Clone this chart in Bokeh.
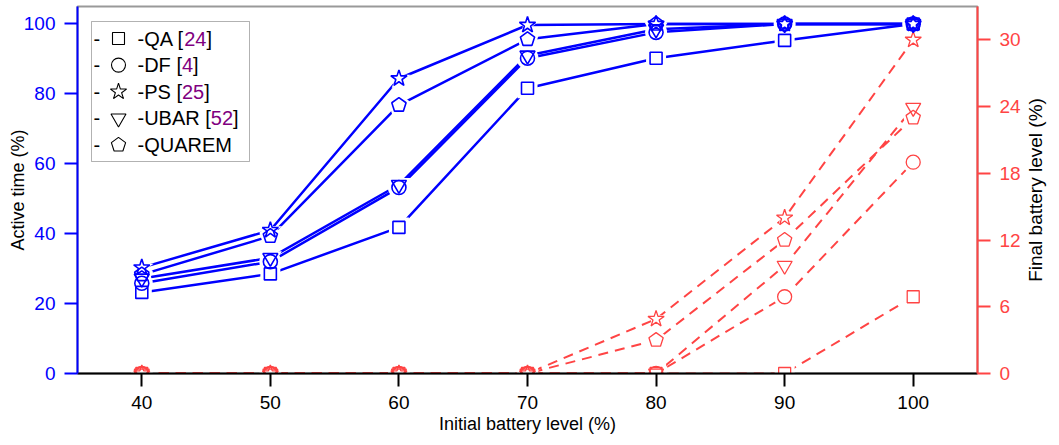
import math
from bokeh.plotting import figure
from bokeh.models import Range1d, LinearAxis, FixedTicker, ColumnDataSource, BoxAnnotation
from bokeh.embed import file_html
from bokeh.resources import INLINE
from bokeh.core.properties import value

# ---------------- data ----------------
levels = [40, 50, 60, 70, 80, 90, 100]
series_names = ["QA", "DF", "PS", "UBAR", "QUAREM"]
series_refs = ["24", "4", "25", "52", ""]

active_qa = [23.2, 28.5, 41.8, 81.6, 90.2, 95.3, 100]
active_df = [25.8, 32.0, 53.2, 90.2, 97.6, 100, 100]
active_ps = [30.3, 41.0, 84.4, 99.7, 100, 100, 100]
active_ubar = [27.2, 33.1, 54.0, 91.0, 98.5, 100, 100]
active_quarem = [28.3, 39.3, 76.8, 95.6, 100, 100, 100]

final_qa = [0, 0, 0, 0, 0, 0, 6.9]
final_df = [0, 0, 0, 0, 0, 6.9, 19.0]
final_ps = [0, 0, 0, 0, 4.9, 14.0, 30.0]
final_ubar = [0, 0, 0, 0, 0, 9.7, 23.9]
final_quarem = [0, 0, 0, 0, 3.0, 12.0, 23.0]

left_ticks = [0, 20, 40, 60, 80, 100]
right_ticks = [0, 6, 12, 18, 24, 30]

active = [active_qa, active_df, active_ps, active_ubar, active_quarem]
final = [final_qa, final_df, final_ps, final_ubar, final_quarem]

# ---------------- style ----------------
BLUE = "#0000ff"
RED = "#ff4444"
PURPLE = "#800080"
FONT = "Liberation Sans"

W, H = 1059, 445
L, R, T, B = 77, 82, 6, 72
X0, X1 = 35, 105
Y0, Y1 = 0, 105
Y2 = 33

markers = ["square", "circle", "star", "inverted_triangle", "pentagon"]
msize = {"square": 12, "circle": 14, "star": 17, "inverted_triangle": 15, "pentagon": 15}

CW = {'-': 333, 'Q': 778, 'A': 667, 'D': 722, 'F': 611, 'P': 667, 'S': 667, 'U': 722,
      'B': 667, 'R': 722, 'E': 667, 'M': 833, ' ': 278, '[': 278, ']': 278,
      'i': 222, 'n': 556, 'a': 556, 'l': 222, 'b': 556, 't': 278, 'e': 556, 'r': 333,
      'y': 500, 'v': 500, '(': 333, ')': 333, '%': 889}


def tw(s, fs):
    return sum(CW.get(c, 556) for c in s) * fs / 1000.0


def dx(px):
    return X0 + (px - L) * (X1 - X0) / (W - L - R)


def dy(py):
    return Y0 + (H - B - py) * (Y1 - Y0) / (H - T - B)


p = figure(width=W, height=H, x_range=Range1d(X0, X1), y_range=Range1d(Y0, Y1),
           output_backend="svg", toolbar_location=None,
           min_border_left=L, min_border_right=R, min_border_top=T, min_border_bottom=B)
p.extra_y_ranges = {"fb": Range1d(0, Y2)}
p.xgrid.visible = False
p.ygrid.visible = False
p.outline_line_color = "#999999"
p.outline_line_width = 2
p.background_fill_color = "white"

# axes
xa = p.xaxis[0]
xa.ticker = FixedTicker(ticks=levels)
xa.axis_label = "Initial battery level (%)"
ya = p.yaxis[0]
ya.ticker = FixedTicker(ticks=left_ticks)
ya.axis_label = "Active time (%)"
ra = LinearAxis(y_range_name="fb", ticker=FixedTicker(ticks=right_ticks))
p.add_layout(ra, "right")

for ax, col in ((xa, "black"), (ya, BLUE), (ra, RED)):
    ax.axis_line_color = col
    ax.axis_line_width = 2
    ax.major_tick_line_color = col
    ax.major_tick_line_width = 2
    ax.major_tick_out = 13
    ax.major_tick_in = 0
    ax.minor_tick_line_color = None
    ax.major_label_text_color = col
    ax.major_label_text_font = FONT
    ax.major_label_text_font_size = "19px"
    ax.major_label_standoff = 9
    ax.axis_label_text_font = FONT
    ax.axis_label_text_font_size = "18px"
    ax.axis_label_text_font_style = "normal"
    ax.axis_label_text_color = "black"
ya.axis_label_standoff = -7
xa.axis_label_standoff = 2

# right-hand axis title, reading bottom to top (an outer label-only axis)
RT = "Final battery level (%)"
RFS = 19
rt_pos = Y2 / 2 - (tw(RT, RFS) / 2) * Y2 / (H - T - B)
title_axis = LinearAxis(y_range_name="fb", ticker=FixedTicker(ticks=[rt_pos]),
                        major_label_overrides={rt_pos: RT},
                        major_label_orientation=math.pi / 2)
title_axis.axis_line_color = None
title_axis.major_tick_line_color = None
title_axis.minor_tick_line_color = None
title_axis.major_tick_out = 0
title_axis.major_tick_in = 0
title_axis.major_label_standoff = 12
title_axis.major_label_text_font = FONT
title_axis.major_label_text_font_size = f"{RFS}px"
title_axis.major_label_text_color = "black"
p.add_layout(title_axis, "right")


def draw_markers(xs, ys, kind, color, width, fill=None, alpha=0.0, extra=0, y_range_name="default", line=True):
    kw = dict(y_range_name=y_range_name)
    lc = color if line else None
    if kind == "pentagon":
        return p.ngon(x=xs, y=ys, radius=msize[kind] / 2 + extra / 2, radius_units="screen", n=5,
                      angle=0, fill_color=fill, fill_alpha=alpha, line_color=lc, line_width=width, **kw)
    return p.scatter(x=xs, y=ys, marker=kind, size=msize[kind] + extra, fill_color=fill,
                     fill_alpha=alpha, line_color=lc, line_width=width, **kw)


# lines
for ys in final:
    p.line(levels, ys, line_color=RED, line_width=2, line_dash="10 7", y_range_name="fb")
for ys in active:
    p.line(levels, ys, line_color=BLUE, line_width=2.5)

# white gaps around markers
for ys, m in zip(final, markers):
    draw_markers(levels, ys, m, RED, 0, fill="white", alpha=1.0, extra=8, y_range_name="fb", line=False)
for ys, m in zip(active, markers):
    draw_markers(levels, ys, m, BLUE, 0, fill="white", alpha=1.0, extra=8, line=False)

# marker outlines
for ys, m in zip(final, markers):
    draw_markers(levels, ys, m, RED, 1.3, y_range_name="fb")
for ys, m in zip(active, markers):
    draw_markers(levels, ys, m, BLUE, 1.6)

# ---------------- legend (manual) ----------------
box = BoxAnnotation(left=dx(91), right=dx(249), top=dy(21), bottom=dy(161),
                    fill_color="white", fill_alpha=1.0, line_color="black", line_width=1,
                    level="underlay")
p.add_layout(box)

LFS = 20
tx, ty, tt, tc = [], [], [], []
row0, step = 38, 26.6
for i, (name, ref, m) in enumerate(zip(series_names, series_refs, markers)):
    py = row0 + i * step
    pieces = [("-", "black", 93)]
    x = 137
    if ref:
        parts = [("-" + name + " [", "black"), (ref, PURPLE), ("]", "black")]
    else:
        parts = [("-" + name, "black")]
    for s, c in parts:
        pieces.append((s, c, x))
        x += tw(s, LFS)
    for s, c, px in pieces:
        tx.append(dx(px))
        ty.append(dy(py))
        tt.append(s)
        tc.append(c)
    draw_markers([dx(118)], [dy(py)], m, "black", 1.1)

p.text(x="x", y="y", text="text", text_color="color",
       source=ColumnDataSource(dict(x=tx, y=ty, text=tt, color=tc)),
       text_font=value(FONT), text_font_size=f"{LFS}px",
       text_baseline="middle", text_align="left")

open("out.html", "w").write(file_html(p, INLINE))
